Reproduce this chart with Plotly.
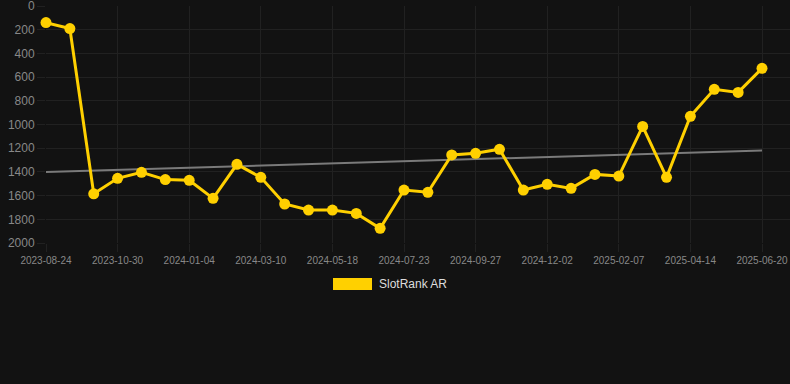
import plotly.graph_objects as go

dates = [
    "2023-08-24", "2023-09-16", "2023-10-08", "2023-10-30", "2023-11-21", "2023-12-13",
    "2024-01-04", "2024-01-26", "2024-02-17", "2024-03-10", "2024-04-02", "2024-04-25",
    "2024-05-18", "2024-06-09", "2024-07-01", "2024-07-23", "2024-08-14", "2024-09-05",
    "2024-09-27", "2024-10-19", "2024-11-10", "2024-12-02", "2024-12-24", "2025-01-16",
    "2025-02-07", "2025-03-01", "2025-03-23", "2025-04-14", "2025-05-06", "2025-05-28",
    "2025-06-20",
]
rank = [
    140, 190, 1585, 1454, 1404, 1465, 1471, 1623, 1336, 1446, 1671, 1722,
    1722, 1750, 1876, 1553, 1572, 1257, 1243, 1209, 1553, 1505, 1539, 1421,
    1435, 1016, 1446, 931, 703, 729, 526,
]
tick_dates = ["2023-08-24", "2023-10-30", "2024-01-04", "2024-03-10", "2024-05-18",
              "2024-07-23", "2024-09-27", "2024-12-02", "2025-02-07", "2025-04-14",
              "2025-06-20"]
y_ticks = [0, 200, 400, 600, 800, 1000, 1200, 1400, 1600, 1800, 2000]
trend_x = [dates[0], dates[-1]]
trend_y = [1400, 1220]
series_name = "SlotRank AR"

YELLOW = "#FFD000"
BG = "#121212"
GRID = "#212121"

fig = go.Figure()
fig.add_trace(go.Scatter(x=trend_x, y=trend_y, mode="lines",
                         line=dict(color="#7a7a7a", width=2), showlegend=False,
                         hoverinfo="skip"))
fig.add_trace(go.Scatter(x=dates, y=rank, mode="lines+markers", name=series_name,
                         line=dict(color=YELLOW, width=3),
                         marker=dict(color=YELLOW, size=11),
                         cliponaxis=False, showlegend=False))

fig.add_shape(type="rect", xref="paper", yref="paper",
              x0=(333 - 46) / 744, x1=(372 - 46) / 744,
              y0=(243 - 290) / 237, y1=(243 - 278) / 237,
              fillcolor=YELLOW, line=dict(width=0))
fig.add_annotation(xref="paper", yref="paper", x=(377 - 46) / 744, y=(243 - 284) / 237,
                   text=series_name, showarrow=False, xanchor="left", yanchor="middle",
                   font=dict(family="Liberation Sans, Arial", size=12, color="#dddddd"))

fig.update_layout(
    width=790, height=384,
    margin=dict(l=46, r=0, t=6, b=141),
    paper_bgcolor=BG, plot_bgcolor=BG,
    font=dict(family="Liberation Sans, Arial", color="#888888"),
    showlegend=False,
)
fig.update_xaxes(type="category", categoryorder="array", categoryarray=dates,
                 range=[0, 744 / (716 / 30)],
                 tickmode="array", tickvals=tick_dates, ticktext=tick_dates,
                 showgrid=True, gridcolor=GRID, gridwidth=1,
                 ticks="outside", ticklen=8, tickcolor=GRID,
                 tickfont=dict(size=10, color="#888888"), zeroline=False,
                 showline=False, tickangle=0, ticklabeloverflow="allow")
fig.update_yaxes(range=[2000, 0], tickmode="array", tickvals=y_ticks,
                 ticktext=[str(v) for v in y_ticks],
                 showgrid=True, gridcolor=GRID, gridwidth=1,
                 ticks="outside", ticklen=8, tickcolor=GRID,
                 tickfont=dict(size=12, color="#888888"), zeroline=False,
                 showline=False, ticklabeloverflow="allow")

fig.write_html("out.html")
